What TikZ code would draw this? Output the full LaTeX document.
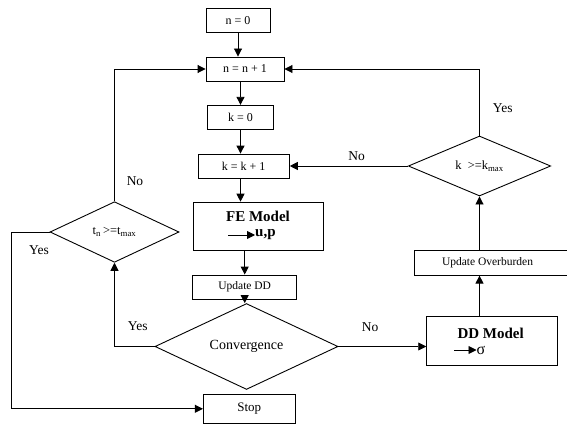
\documentclass[tikz,border=0pt]{standalone}
\usepackage{fontspec}
\setmainfont{Liberation Serif}
\usetikzlibrary{arrows.meta,shapes.geometric}
\tikzset{
  every picture/.style={x=1pt,y=-1pt},
  boxs/.style={draw,line width=0.9pt,inner sep=0pt,font=\fontsize{12}{14}\selectfont},
  dia/.style={draw,diamond,line width=0.9pt,inner sep=0pt},
  conn/.style={line width=0.9pt,-{Triangle[length=8pt,width=8pt]}},
  lab/.style={font=\fontsize{13.5}{15}\selectfont,inner sep=0pt},
}
\begin{document}
\begin{tikzpicture}
\useasboundingbox (0,0) rectangle (567,425);
\node[boxs,minimum width=64pt,minimum height=24.5pt] (n0) at (238,20.5) {n = 0};
\node[boxs,minimum width=78pt,minimum height=24pt] (n1) at (245,69) {n = n + 1};
\node[boxs,minimum width=65.6pt,minimum height=24pt] (k0) at (240.5,117.3) {k = 0};
\node[boxs,minimum width=91.3pt,minimum height=24.3pt] (k1) at (243.7,166.2) {k = k + 1};
\node[boxs,minimum width=130pt,minimum height=48.7pt] (fe) at (258,226.5) {};
\node[font=\fontsize{15}{17}\selectfont\bfseries,inner sep=0pt] (fet) at (258,216.5) {FE Model};
\node[font=\fontsize{15}{17}\selectfont\bfseries,inner sep=0pt,anchor=west] (up) at (255,235) {u,p};
\coordinate (fea) at (228,235);
\node[boxs,minimum width=104pt,minimum height=24pt,font=\fontsize{11.5}{13}\selectfont] (udd) at (244.7,287) {Update DD};
\node[dia,minimum width=183pt,minimum height=59.5pt,font=\fontsize{14}{16}\selectfont] (conv) at (246.5,346.5) {Convergence};
\node[boxs,minimum width=130.6pt,minimum height=49pt] (dd) at (492,340.5) {};
\node[font=\fontsize{15}{17}\selectfont\bfseries,inner sep=0pt] (ddt) at (490.7,333.5) {DD Model};
\node[font=\fontsize{16}{17}\selectfont,inner sep=0pt,anchor=west] (sig) at (476.5,350) {σ};
\coordinate (dda) at (454,350);
\node[boxs,minimum width=156pt,minimum height=24.3pt,font=\fontsize{11.5}{13}\selectfont] (uo) at (492,263) {};
\node[font=\fontsize{11.5}{13}\selectfont,inner sep=0pt] (uot) at (487.5,263) {Update Overburden};
\node[dia,minimum width=142.4pt,minimum height=60pt,font=\fontsize{12.5}{14}\selectfont] (kd) at (479.5,166) {k\,\,\,>=k\textsubscript{max}};
\node[dia,minimum width=129pt,minimum height=60.6pt,font=\fontsize{12.5}{14}\selectfont] (td) at (114.5,232) {t\textsubscript{n}\,>=t\textsubscript{max}};
\node[boxs,minimum width=91.7pt,minimum height=29pt,font=\fontsize{13}{15}\selectfont] (stop) at (249.2,408.8) {Stop};
\coordinate (lft) at (11.7,408.8);
% connectors
\draw[conn] (n0.south) -- (n0.south |- n1.north);
\draw[conn] (k0.north |- n1.south) -- (k0.north);
\draw[conn] (k0.south) -- (k0.south |- k1.north);
\draw[conn] (k0.south |- k1.south) -- (k0.south |- fe.north);
\draw[conn] (udd.north |- fe.south) -- (udd.north);
\draw[conn] (udd.south) -- (udd.south |- conv.north);
\draw[conn] (conv.east) -- (conv.east -| dd.west);
\draw[conn] (kd.south |- dd.north) -- (kd.south |- uo.south);
\draw[conn] (kd.south |- uo.north) -- (kd.south);
\draw[conn] (kd.west) -- (kd.west -| k1.east);
\draw[conn] (kd.north) |- (n1.east);
\draw[conn] (conv.west) -| (td.south);
\draw[conn] (td.north) |- (n1.west);
\draw[conn] (td.west) -- (td.west -| lft) -- (lft) -- (stop.west);
\draw[conn] (fea) -- (up.west);
\draw[conn] (dda) -- (sig.west);
% labels
\node[lab] (l1) at (370,326.7) {No};
\node[lab] (l2) at (502.7,107.7) {Yes};
\node[lab] (l3) at (356.7,155.7) {No};
\node[lab] (l4) at (137.7,326) {Yes};
\node[lab] (l5) at (135,181) {No};
\node[lab] (l6) at (39,250) {Yes};
\end{tikzpicture}
\end{document}
